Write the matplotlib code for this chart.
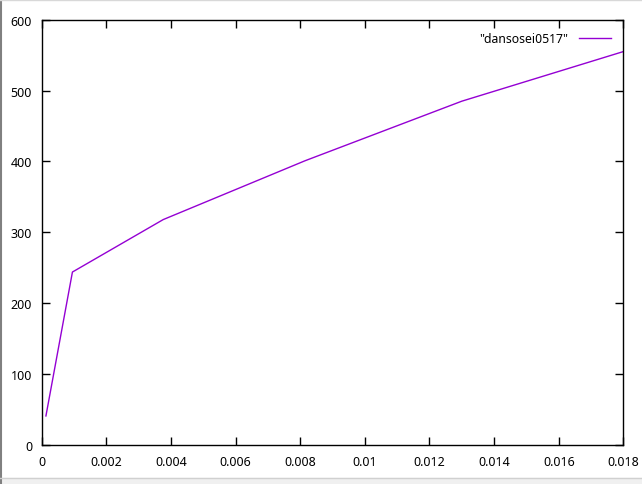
import matplotlib
matplotlib.use("Agg")
import matplotlib.pyplot as plt
from matplotlib.lines import Line2D
from matplotlib.patches import Rectangle

# values read from the gnuplot output
x_vals = [0.00013, 0.00095, 0.00376, 0.00815, 0.0130, 0.018]
y_vals = [41, 244, 318, 401, 485, 555]
series_name = '"dansosei0517"'

plt.rcParams['font.family'] = ['Noto Sans', 'DejaVu Sans']

fig = plt.figure(figsize=(6.42, 4.85), dpi=100)
ax = fig.add_axes([0.065, 0.0804, 0.906, 0.877])

ax.plot(x_vals, y_vals, color='#9400d3', linewidth=1.0, label=series_name)

ax.set_xlim(0, 0.018)
ax.set_ylim(0, 600)
ax.set_xticks([0, 0.002, 0.004, 0.006, 0.008, 0.01, 0.012, 0.014, 0.016, 0.018])
ax.set_xticklabels(['0', '0.002', '0.004', '0.006', '0.008', '0.01', '0.012', '0.014', '0.016', '0.018'])
ax.set_yticks(range(0, 601, 100))
ax.tick_params(direction='in', length=6, width=1, top=True, right=True,
               labelsize=9, pad=7)
for s in ax.spines.values():
    s.set_linewidth(1.0)

leg = ax.legend(loc='upper right', frameon=False, markerfirst=False,
                fontsize=8.8, handlelength=2.6, handletextpad=0.9,
                borderaxespad=0.6)

# window frame around the plot
fig.add_artist(Line2D([0.002, 0.002], [0, 1], color='#808080', linewidth=1.5))
fig.add_artist(Line2D([0, 1], [0.998, 0.998], color='#d8d8d8', linewidth=1.0))
fig.add_artist(Rectangle((0, 0), 1, 0.012, color='#f0f0f0', zorder=-1))
fig.add_artist(Line2D([0, 1], [0.012, 0.012], color='#d0d0d0', linewidth=1.0))

fig.savefig('out.png', dpi=100)
